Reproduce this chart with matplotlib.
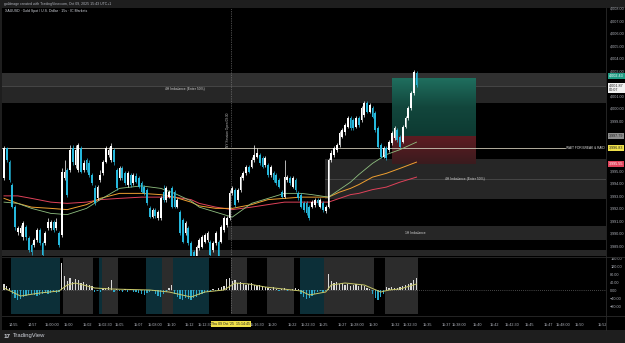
import matplotlib
matplotlib.use("Agg")
import matplotlib.pyplot as plt
import numpy as np
from matplotlib.patches import Rectangle
from matplotlib.colors import LinearSegmentedColormap
import matplotlib.transforms as mtransforms

plt.rcParams['font.family'] = ['Liberation Sans', 'DejaVu Sans']

# ---------------- data ----------------
opens = [3994.4, 3996.8, 3995.7, 3993.9, 3992.1, 3990.1, 3990.0, 3989.7, 3990.5, 3989.6,
         3989.1, 3989.1, 3989.5, 3990.3, 3989.2, 3989.2, 3990.4, 3990.4, 3990.9, 3990.4,
         3990.0, 3989.9, 3994.4, 3995.1, 3995.1, 3996.8, 3995.5, 3995.1, 3996.8, 3995.1,
         3995.9, 3995.6, 3994.7, 3993.6, 3992.8, 3994.3, 3994.8, 3995.7, 3996.3, 3995.9,
         3996.7, 3995.1, 3994.4, 3995.2, 3994.8, 3993.9, 3994.7, 3994.0, 3994.6, 3994.4,
         3994.0, 3993.7, 3993.5, 3992.0, 3991.3, 3991.9, 3991.2, 3991.2, 3993.3, 3992.7,
         3992.9, 3993.6, 3993.3, 3992.1, 3991.7, 3991.1, 3990.0, 3990.4, 3989.2, 3988.5,
         3988.1, 3988.8, 3988.9, 3989.3, 3989.5, 3989.3, 3988.7, 3989.2, 3989.3, 3989.3,
         3990.3, 3990.7, 3991.2, 3993.2, 3993.5, 3992.7, 3993.5, 3994.4, 3994.8, 3995.3,
         3995.3, 3995.9, 3996.1, 3996.3, 3996.0, 3995.5, 3995.5, 3994.7, 3994.8, 3994.7,
         3994.3, 3993.3, 3992.9, 3994.3, 3994.4, 3993.7, 3994.3, 3993.2, 3993.1, 3992.4,
         3992.4, 3992.1, 3992.1, 3992.3, 3992.7, 3992.1, 3992.4, 3991.8, 3992.1, 3995.9,
         3996.3, 3996.7, 3997.1, 3997.7, 3998.1, 3998.5, 3999.2, 3999.1, 3998.5, 3999.2,
         3999.1, 3999.5, 4000.4, 3999.7, 4000.0, 3999.6, 3998.4, 3997.1, 3996.1, 3996.8,
         3996.7, 3997.2, 3997.6, 3998.3, 3997.7, 3997.3, 3998.5, 3999.2, 4000.0, 4001.2,
         4002.8]
highs = [3997.0, 3996.9, 3995.9, 3994.0, 3992.3, 3990.6, 3990.7, 3991.0, 3990.7, 3989.8,
         3989.2, 3989.6, 3990.4, 3990.4, 3989.4, 3990.2, 3991.2, 3991.1, 3991.1, 3991.2,
         3990.2, 3995.2, 3995.9, 3995.2, 3997.1, 3997.1, 3997.1, 3997.2, 3997.0, 3995.9,
         3996.0, 3995.9, 3994.8, 3993.9, 3993.9, 3995.1, 3995.9, 3997.0, 3996.9, 3997.2,
         3996.8, 3995.2, 3995.4, 3995.4, 3995.0, 3995.0, 3994.8, 3994.8, 3994.8, 3994.6,
         3994.2, 3993.9, 3993.6, 3992.2, 3992.0, 3992.0, 3991.9, 3993.0, 3993.9, 3993.8,
         3993.5, 3993.8, 3993.5, 3992.8, 3991.9, 3991.2, 3991.0, 3990.6, 3989.4, 3988.7,
         3989.1, 3989.6, 3989.9, 3990.0, 3990.2, 3989.5, 3989.4, 3990.2, 3989.5, 3990.7,
         3991.4, 3991.4, 3993.5, 3993.8, 3993.6, 3993.6, 3994.7, 3995.0, 3995.5, 3995.5,
         3996.1, 3997.1, 3996.8, 3996.4, 3996.2, 3996.2, 3995.6, 3995.5, 3995.0, 3994.8,
         3994.4, 3993.5, 3995.9, 3994.7, 3994.6, 3994.6, 3994.4, 3993.4, 3993.2, 3992.6,
         3992.6, 3992.3, 3992.7, 3992.8, 3992.8, 3992.8, 3992.6, 3992.3, 3996.0, 3996.7,
         3997.0, 3997.2, 3998.2, 3998.4, 3998.8, 3999.4, 3999.4, 3999.2, 3999.4, 3999.4,
         4000.2, 4000.6, 4000.6, 4000.4, 4000.2, 3999.8, 3998.6, 3997.2, 3997.0, 3997.0,
         3997.5, 3998.2, 3998.6, 3998.4, 3997.9, 3998.7, 3999.4, 4000.2, 4001.4, 4003.1,
         4003.0]
lows = [3994.3, 3995.7, 3994.1, 3992.0, 3990.3, 3989.9, 3989.8, 3989.5, 3989.5, 3988.5,
        3988.3, 3988.9, 3989.3, 3989.1, 3988.0, 3989.1, 3990.3, 3990.3, 3990.1, 3990.3,
        3988.9, 3989.7, 3994.3, 3992.9, 3994.9, 3995.5, 3995.2, 3994.9, 3994.8, 3994.9,
        3994.9, 3994.5, 3993.9, 3992.3, 3992.7, 3994.1, 3994.7, 3995.6, 3996.1, 3995.7,
        3995.5, 3993.5, 3994.3, 3994.3, 3993.9, 3993.7, 3993.7, 3993.9, 3994.0, 3993.6,
        3993.2, 3993.1, 3992.3, 3991.2, 3991.2, 3991.2, 3991.1, 3991.1, 3992.5, 3992.5,
        3992.8, 3992.0, 3992.0, 3992.0, 3989.9, 3989.2, 3989.9, 3989.1, 3988.0, 3987.9,
        3988.0, 3988.7, 3988.8, 3989.2, 3989.3, 3988.1, 3988.5, 3989.1, 3988.0, 3989.2,
        3990.1, 3990.5, 3991.1, 3993.1, 3992.1, 3992.5, 3993.3, 3994.3, 3994.7, 3994.8,
        3995.2, 3995.7, 3996.0, 3995.5, 3995.2, 3995.3, 3994.5, 3994.5, 3994.1, 3993.9,
        3993.6, 3992.8, 3992.8, 3994.1, 3993.9, 3993.6, 3993.3, 3992.7, 3992.0, 3991.7,
        3991.5, 3991.1, 3992.0, 3992.1, 3992.3, 3992.0, 3991.7, 3991.6, 3992.0, 3995.7,
        3996.1, 3996.5, 3996.9, 3997.6, 3997.9, 3998.4, 3998.3, 3998.3, 3998.4, 3998.5,
        3998.9, 3999.3, 3999.6, 3999.6, 3999.2, 3998.1, 3996.8, 3996.0, 3996.0, 3995.9,
        3996.5, 3997.1, 3997.5, 3997.3, 3996.8, 3997.2, 3998.4, 3999.1, 3999.9, 4001.1,
        4001.7]
closes = [3996.8, 3995.9, 3994.3, 3992.1, 3990.5, 3990.4, 3990.4, 3990.8, 3989.7, 3988.7,
          3988.5, 3989.5, 3990.3, 3989.2, 3988.3, 3990.0, 3990.9, 3990.9, 3990.3, 3990.9,
          3989.1, 3994.9, 3994.9, 3993.1, 3996.7, 3995.7, 3996.7, 3997.1, 3994.9, 3995.6,
          3995.1, 3994.7, 3994.0, 3992.4, 3993.7, 3994.7, 3995.7, 3996.8, 3996.7, 3997.0,
          3995.7, 3993.6, 3995.2, 3994.4, 3994.0, 3994.8, 3993.9, 3994.7, 3994.1, 3993.7,
          3993.3, 3993.2, 3992.4, 3991.3, 3991.9, 3991.4, 3991.7, 3992.8, 3992.7, 3993.6,
          3993.3, 3992.1, 3992.1, 3992.7, 3990.0, 3989.3, 3990.8, 3989.2, 3988.1, 3988.0,
          3988.9, 3989.5, 3989.7, 3989.9, 3990.0, 3988.3, 3989.2, 3990.0, 3988.1, 3990.5,
          3991.2, 3991.2, 3993.2, 3993.6, 3992.3, 3993.5, 3994.5, 3994.8, 3995.3, 3994.9,
          3995.9, 3996.3, 3996.4, 3995.6, 3995.3, 3996.0, 3994.7, 3995.3, 3994.3, 3994.0,
          3993.7, 3992.9, 3994.5, 3994.5, 3994.0, 3994.4, 3993.5, 3992.8, 3992.1, 3991.9,
          3991.6, 3991.2, 3992.5, 3992.7, 3992.4, 3992.7, 3991.9, 3992.1, 3995.9, 3996.4,
          3996.8, 3997.1, 3998.0, 3998.3, 3998.7, 3999.2, 3998.4, 3998.4, 3999.2, 3998.7,
          4000.0, 4000.4, 3999.7, 4000.3, 3999.3, 3998.3, 3996.9, 3996.1, 3996.8, 3996.0,
          3997.3, 3998.0, 3998.4, 3997.5, 3996.9, 3998.5, 3999.2, 4000.0, 4001.2, 4002.9,
          4001.9]

# moving averages (sampled at candle indices)
ma_idx = [0, 5, 10, 17, 23, 30, 35, 42, 50, 57, 62, 68, 71, 77, 83, 90, 96, 102, 108, 112,
          118, 122, 126, 129, 134, 139, 144, 150]
ma_green = [3992.5, 3992.4, 3992.0, 3991.6, 3991.5, 3992.0, 3992.7, 3993.6, 3993.8, 3993.6,
            3993.2, 3992.6, 3992.1, 3991.7, 3991.3, 3992.4, 3992.8, 3993.2, 3993.2, 3993.1,
            3992.9, 3993.5, 3994.1, 3994.7, 3995.6, 3996.3, 3996.7, 3997.3]
ma_orange = [3992.8, 3992.4, 3992.1, 3992.0, 3991.9, 3992.3, 3992.8, 3993.2, 3993.2, 3993.1,
             3992.9, 3992.5, 3992.2, 3992.0, 3992.0, 3992.3, 3992.7, 3992.8, 3992.9, 3992.9,
             3992.9, 3993.3, 3993.6, 3993.9, 3994.5, 3994.8, 3995.2, 3995.7]
ma_red = [3993.0, 3993.0, 3992.8, 3992.5, 3992.4, 3992.5, 3992.7, 3992.8, 3992.9, 3992.9,
          3992.9, 3992.7, 3992.4, 3992.1, 3991.9, 3992.1, 3992.3, 3992.5, 3992.5, 3992.5,
          3992.5, 3992.8, 3993.1, 3993.2, 3993.5, 3993.7, 3994.1, 3994.5]

# oscillator histogram (one per candle) and its signal line
hist = [30, 20, 10, -20, -40, -50, -45, -35, -30, -25, -20, -25, -30, -25, -20, -15, -20, -15, -10, -15,
        -10, 135, 70, 45, 60, 40, 55, 50, 35, 40, 30, 25, 20, -10, -5, -8, 5, 10, 15, 50,
        -10, 5, -5, -10, 5, -8, 3, -10, -12, -15, -20, -25, -15, -10, -5, -20, -30, -35, -20, -10,
        10, 25, -20, -35, -45, -50, -40, -45, -50, -40, -35, -25, -20, -15, -10, -5, 5, -5, 10, 15,
        20, 55, 60, 45, 50, 35, 40, 30, 25, 30, 35, 25, 20, 25, 20, 15, 10, 5, 15, 5,
        -5, 5, 10, -5, 0, 5, 10, 5, -20, -35, -45, -40, -30, -20, -10, -5, -10, -5, 80, 45,
        35, 40, 30, 35, 25, 30, 20, 25, 30, 20, 25, 20, 10, 5, -20, -40, -50, -35, -20, 15,
        10, 15, 10, 10, 15, 20, 25, 30, 35, 50, 60]
sig_idx = [0, 6, 13, 20, 23, 26, 33, 39, 53, 60, 68, 73, 80, 84, 89, 95, 108, 111, 117, 119,
           124, 131, 137, 140, 144, 150]
sig_vals = [10, -30, -15, -5, 25, 35, 10, 5, 0, -10, -35, -10, 0, 35, 30, 15, -5, -25, -10, 25,
            35, 25, -10, 0, 5, 30]

# oscillator background regime bands (candle index ranges)
teal_bands = [(3, 16), (17, 20), (35, 36), (52, 58), (62, 74), (108, 117)]
gray_bands = [(22, 32), (36, 41), (58, 61), (83, 88), (96, 105), (117, 134), (139, 143), (144, 150)]

# zones
zone_names = ["4H Imbalance (Enter 50%)", "4H Imbalance (Enter 50%)", "1H Imbalance", ""]
zone_top = [4002.83, 3995.95, 3990.59, 3988.67]
zone_bottom = [4000.43, 3992.75, 3989.47, 3987.50]
zone_mid = [4001.79, 3994.35, None, None]
zone_start = [-1.0, 116.7, 81.5, -1.0]

# trade setup (long position)
pos_start, pos_end = 141.1, 171.6
pos_tp, pos_entry, pos_sl = 4002.43, 3997.79, 3995.55
wait_level = 3996.83
wait_text = "WAIT FOR BREAK & RAID"
last_price = 4001.87
event_idx = 82.5
event_text = "NY Session Open 09:30"

price_ticks = [3989 + i for i in range(20)]
osc_ticks = [160, 120, 80, 40, 0, -40, -80]

time_idx = [3.6, 10.2, 17.5, 23.3, 30.2, 36.7, 42.0, 48.7, 54.9, 61.0, 67.3, 73.1, 92.0, 97.5,
            104.7, 110.5, 116.0, 122.9, 128.4, 134.2, 142.2, 147.6, 153.8, 160.7, 165.5, 172.0,
            178.2, 184.7, 190.9, 197.8, 203.3, 209.1, 217.5]
time_labels = ["14:55", "14:57", "15:00:00", "15:00", "15:02", "15:02:30", "15:05", "15:07",
               "15:08:00", "15:10", "15:12", "15:12:30", "15:16:30", "15:20", "15:22", "15:22:30",
               "15:25", "15:27", "15:28:00", "15:30", "15:32", "15:32:30", "15:35", "15:37",
               "15:38:00", "15:40", "15:42", "15:42:30", "15:45", "15:47", "15:48:00", "15:50", "15:52"]
event_time_label = "Thu 09 Oct '25  15:14:45"

# ---------------- layout ----------------
W, H = 625, 343
fig = plt.figure(figsize=(6.25, 3.43), dpi=100, facecolor='#1e1e1e')

def fbox(l, t, r, b):
    return [l / W, 1 - b / H, (r - l) / W, (b - t) / H]

TXT = '#b2b5be'
FS = 2.7
PL, PR, PT, PB, IT, IB = 2, 606, 8, 256, 257, 314

bg = fig.add_axes(fbox(PL, PT, W, 330), facecolor='black')
bg.set_xticks([]); bg.set_yticks([])
for s in bg.spines.values():
    s.set_visible(False)

ax = fig.add_axes(fbox(PL, PT, PR, PB), facecolor='black')
axi = fig.add_axes(fbox(PL, IT, PR, IB), facecolor='black')

X0 = (PL - 4) / 2.75
X1 = (PR - 4) / 2.75

# zones
for name, top, bot, mid, st in zip(zone_names, zone_top, zone_bottom, zone_mid, zone_start):
    ax.add_patch(Rectangle((st, bot), X1 + 5 - st, top - bot, facecolor='#262626',
                           edgecolor='none', zorder=1))
    if mid is not None:
        ax.plot([st, X1 + 5], [mid, mid], color='#4a4a4a', lw=0.6, zorder=1.1)
ax.add_patch(Rectangle((zone_start[0], zone_mid[0]), X1 + 5 - zone_start[0],
                       zone_top[0] - zone_mid[0], facecolor='#303030', edgecolor='none', zorder=1.05))
ax.text(65.8, zone_mid[0] - 0.1, zone_names[0], color='#d0d0d0', fontsize=2.4, ha='center',
        va='top', zorder=5)
ax.text(167.6, zone_mid[1] - 0.02, zone_names[1], color='#d0d0d0', fontsize=2.4, ha='center',
        va='center', zorder=5)
ax.text(149.5, (zone_top[2] + zone_bottom[2]) / 2, zone_names[2], color='#d0d0d0', fontsize=2.4,
        ha='center', va='center', zorder=5)

# position tool
gcm = LinearSegmentedColormap.from_list('g', ['#0d3a32', '#12463c', '#1f6e5e'])
rcm = LinearSegmentedColormap.from_list('r', ['#3a1c1e', '#5e1b22'])
grad = np.linspace(0, 1, 64).reshape(-1, 1)
ax.imshow(grad, extent=[pos_start, pos_end, pos_entry, pos_tp], origin='lower', cmap=gcm,
          aspect='auto', zorder=1.5, interpolation='bilinear')
ax.imshow(grad, extent=[pos_start, pos_end, pos_sl, pos_entry], origin='lower', cmap=rcm,
          aspect='auto', zorder=1.5, interpolation='bilinear')

# wait line
wait_end = 204.0
ax.plot([X0, wait_end], [wait_level, wait_level], color='#cfc9b8', lw=0.6, zorder=2)
ax.text(wait_end + 0.4, wait_level, wait_text, color='#e0e0e0', fontsize=2.3, ha='left',
        va='center', zorder=5)

# moving averages
ax.plot(ma_idx, ma_red, color='#e0425a', lw=0.7, zorder=2.2)
ax.plot(ma_idx, ma_orange, color='#f0a030', lw=0.7, zorder=2.2)
ax.plot(ma_idx, ma_green, color='#8fbf80', lw=0.6, zorder=2.2)

# candles
idx = np.arange(len(closes))
o = np.array(opens); h = np.array(highs); l = np.array(lows); c = np.array(closes)
up = c >= o
cols = np.where(up, '#ffffff', '#26b8dc')
ax.vlines(idx, l, h, colors=cols, lw=0.5, zorder=3)
body = np.maximum(np.abs(c - o), 0.05)
ax.bar(idx, body, bottom=np.minimum(o, c), width=0.68, color=cols, linewidth=0, zorder=3.1)

# event line
for a in (ax, axi):
    a.axvline(event_idx, color='#8a8a8a', lw=0.5, ls=(0, (1, 1.5)), zorder=4)
ax.text(event_idx - 1.2, 3998.3, event_text, rotation=90, color='#c0c0c0', fontsize=2.3,
        ha='center', va='center', zorder=5)

ax.set_xlim(X0, X1)
ax.set_ylim(4000.67 - 0.08 * (PB - 100), 4000.67 + 0.08 * (100 - PT))
ax.set_xticks([])
ax.yaxis.tick_right()
special = [pos_tp, last_price, pos_entry, wait_level, pos_sl]
shown_ticks = [v for v in price_ticks if min(abs(v - s) for s in special) > 0.5]
ax.set_yticks(shown_ticks)
ax.set_yticklabels([f"{v:,.2f}" for v in shown_ticks])
ax.tick_params(axis='y', length=0, labelsize=FS, labelcolor=TXT, pad=3)
for s in ax.spines.values():
    s.set_visible(False)

# special price labels
tr = mtransforms.blended_transform_factory(ax.transAxes, ax.transData)
def plabel(price, text, fc, tc, va='center'):
    ax.text(1.005, price, text, transform=tr, ha='left', va=va, fontsize=FS, color=tc,
            bbox=dict(boxstyle='square,pad=0.2', fc=fc, ec='none'), zorder=6, clip_on=False,
            linespacing=1.0)
plabel(pos_tp, f"{pos_tp:,.2f}", '#1f9c84', 'white', va='bottom')
plabel(last_price + 0.1, f"{last_price:,.2f}\n00:07", '#f0f0f0', '#202020', va='top')
plabel(pos_entry, f"{pos_entry:,.2f}", '#8c8c8c', '#202020')
plabel(wait_level, f"{wait_level:,.2f}", '#efe04a', '#202020')
plabel(pos_sl, f"{pos_sl:,.2f}", '#e0425a', 'white')

# oscillator pane
for s, e in teal_bands:
    axi.axvspan(s - 0.5, e + 0.5, color='#0c2f38', lw=0, zorder=0.5)
for s, e in gray_bands:
    axi.axvspan(s - 0.5, e + 0.5, color='#2c2c2c', lw=0, zorder=0.5)
hv = np.array(hist)
hcols = np.where(hv >= 0, '#d8d8d8', '#2aa9c9')
axi.bar(np.arange(len(hv)), hv, width=0.45, color=hcols, linewidth=0, zorder=2)
axi.axhline(0, color='#8a8a8a', lw=0.5, ls=(0, (1, 2)), zorder=1.5)
axi.plot(sig_idx, sig_vals, color='#c8c86a', lw=0.7, zorder=3)
axi.set_xlim(X0, X1)
axi.set_ylim(-120, 165)
axi.yaxis.tick_right()
axi.set_yticks(osc_ticks)
axi.set_yticklabels([f"{v:.2f}".replace('-', '\u2212') for v in osc_ticks])
axi.tick_params(axis='y', length=0, labelsize=FS, labelcolor=TXT, pad=3)
axi.set_xticks(time_idx)
axi.set_xticklabels(time_labels)
axi.tick_params(axis='x', length=0, labelsize=FS, labelcolor=TXT, pad=6.5)
for s in axi.spines.values():
    s.set_visible(False)
axi.text(event_idx, -0.175, event_time_label, transform=axi.get_xaxis_transform(),
         ha='center', va='center', fontsize=2.5, color='#202020',
         bbox=dict(boxstyle='square,pad=0.2', fc='#efe04a', ec='none'), zorder=6, clip_on=False)

# separators
fig.add_artist(plt.Line2D([PR / W, PR / W], [1 - 330 / H, 1 - PT / H], color='#2a2a2a', lw=0.6))
fig.add_artist(plt.Line2D([PL / W, 1], [1 - 256.5 / H, 1 - 256.5 / H], color='#2a2a2a', lw=0.6))
fig.add_artist(plt.Line2D([PL / W, 1], [1 - 316 / H, 1 - 316 / H], color='#2a2a2a', lw=0.6))

# header / title / logo
fig.text(4 / W, 1 - 4 / H, "goldmage created with TradingView.com, Oct 09, 2025 15:43 UTC+1",
         fontsize=2.5, color=TXT, va='center', ha='left')
fig.text(5 / W, 1 - 11 / H, "XAUUSD \u00b7 Gold Spot / U.S. Dollar \u00b7 15s \u00b7 IC Markets",
         fontsize=2.5, color='#d1d4dc', va='center', ha='left')
fig.text(4 / W, 1 - 336 / H, "17", fontsize=4.5, fontweight='bold', color='#d1d4dc',
         va='center', ha='left')
fig.text(13 / W, 1 - 336 / H, "TradingView", fontsize=4.2, color='#d1d4dc', va='center', ha='left')

fig.savefig("out.png", dpi=100, facecolor=fig.get_facecolor())
